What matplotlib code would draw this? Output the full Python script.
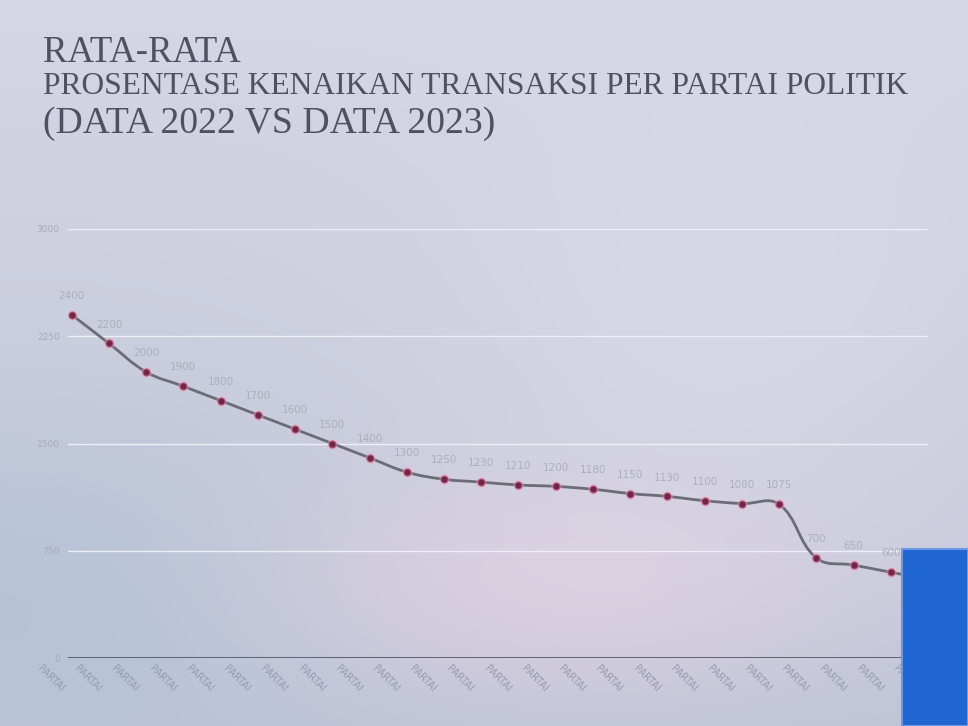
import numpy as np
import matplotlib
matplotlib.use("Agg")
import matplotlib.pyplot as plt
from matplotlib.path import Path
from matplotlib.patches import PathPatch, Rectangle
import matplotlib.transforms as mtransforms

# ---- data ----
categories = ["PARTAI"] * 24
values = [2400, 2200, 2000, 1900, 1800, 1700, 1600, 1500, 1400, 1300,
          1250, 1230, 1210, 1200, 1180, 1150, 1130, 1100, 1080, 1075,
          700, 650, 600, 550]
value_labels = ["2400", "2200", "2000", "1900", "1800", "1700", "1600", "1500",
                "1400", "1300", "1250", "1230", "1210", "1200", "1180", "1150",
                "1130", "1100", "1080", "1075", "700", "650", "600", "550"]
y_ticks = [0, 750, 1500, 2250, 3000]
title_lines = ["RATA-RATA",
               "PROSENTASE KENAIKAN TRANSAKSI PER PARTAI POLITIK",
               "(DATA 2022 VS DATA 2023)"]

W, H = 968, 726
fig = plt.figure(figsize=(W / 100, H / 100), dpi=100)

# ---- background gradient (photo of a slide) ----
bg = fig.add_axes([0, 0, 1, 1], zorder=-10)
yy, xx = np.mgrid[0:H, 0:W]
fy = yy / H
fx = xx / W
top = np.array([214, 214, 228])
bottom = np.array([190, 196, 215])
img = top[None, None, :] * (1 - fy[..., None]) + bottom[None, None, :] * fy[..., None]
# bluish lower-left
blob = np.exp(-(((fx - 0.03) / 0.35) ** 2 + ((fy - 0.82) / 0.22) ** 2))
img = img * (1 - 0.55 * blob[..., None]) + np.array([172, 192, 212])[None, None, :] * 0.55 * blob[..., None]
# pinkish centre-bottom
blob2 = np.exp(-(((fx - 0.58) / 0.3) ** 2 + ((fy - 0.8) / 0.16) ** 2))
img = img * (1 - 0.6 * blob2[..., None]) + np.array([232, 210, 226])[None, None, :] * 0.6 * blob2[..., None]
# lighter right/centre
blob3 = np.exp(-(((fx - 0.75) / 0.35) ** 2 + ((fy - 0.45) / 0.35) ** 2))
img = img * (1 - 0.45 * blob3[..., None]) + np.array([228, 225, 236])[None, None, :] * 0.45 * blob3[..., None]
bg.imshow(np.clip(img, 0, 255).astype(np.uint8), aspect="auto", extent=[0, 1, 0, 1])
bg.set_axis_off()

# ---- titles ----
tfont = dict(family="Liberation Serif", color="#4f5062")
fig.text(43 / W, 1 - 62 / H, title_lines[0], fontsize=26.5, **tfont)
fig.text(43 / W, 1 - 94 / H, title_lines[1], fontsize=22.7, **tfont)
fig.text(43 / W, 1 - 133 / H, title_lines[2], fontsize=27.2, **tfont)

# ---- axes ----
left_px, right_px = 68, 928
bottom_px, top_px = 658, 229
ax = fig.add_axes([left_px / W, 1 - bottom_px / H, (right_px - left_px) / W, (bottom_px - top_px) / H])
ax.patch.set_alpha(0)
x = np.arange(len(values))
ax.set_xlim(-0.1, 22.6)
ax.set_ylim(0, 3000)

for s in ax.spines.values():
    s.set_visible(False)
for t in y_ticks[1:]:
    ax.axhline(t, color="#eeeff5", lw=1.0, zorder=1)
ax.axhline(0, color="#3c4558", lw=1.8, zorder=2)

ax.set_yticks(y_ticks)
ax.set_yticklabels([str(t) for t in y_ticks], fontsize=6.5, color="#a8aab9")
ax.tick_params(axis="y", length=0, pad=6)
ax.set_xticks(x)
ax.set_xticklabels(categories, rotation=-45, ha="right", va="top",
                   fontsize=7, color="#969cb0")
ax.tick_params(axis="x", length=0, pad=4)
offset = mtransforms.ScaledTranslation(-6 / 100, 0, fig.dpi_scale_trans)
for lbl in ax.get_xticklabels():
    lbl.set_transform(lbl.get_transform() + offset)

# ---- smooth line (Chart.js-like spline) ----
sx = (right_px - left_px) / (22.6 + 0.1)
sy = (bottom_px - top_px) / 3000.0
P = np.column_stack([x * sx, np.array(values) * sy])
tension = 0.4
n = len(P)
verts = [tuple(P[0])]
codes = [Path.MOVETO]
cps_prev = np.zeros_like(P)
cps_next = np.zeros_like(P)
for i in range(n):
    p0 = P[max(i - 1, 0)]
    p1 = P[i]
    p2 = P[min(i + 1, n - 1)]
    d01 = np.hypot(*(p1 - p0))
    d12 = np.hypot(*(p2 - p1))
    tot = d01 + d12 if d01 + d12 > 0 else 1
    fa = tension * d01 / tot
    fb = tension * d12 / tot
    cps_prev[i] = p1 - fa * (p2 - p0)
    cps_next[i] = p1 + fb * (p2 - p0)
for i in range(1, n):
    verts += [tuple(cps_next[i - 1]), tuple(cps_prev[i]), tuple(P[i])]
    codes += [Path.CURVE4] * 3
verts = np.array(verts)
verts[:, 0] /= sx
verts[:, 1] /= sy
path = Path(verts, codes)
ax.add_patch(PathPatch(path, fill=False, edgecolor="#6b6c76", lw=2.0, zorder=3))

ax.scatter(x, values, s=60, color="#f2a6c4", alpha=0.4, zorder=4, linewidths=0)
ax.scatter(x, values, s=26, color="#6e2846", edgecolors="#b85a80", linewidths=0.8, zorder=5)

for xi, v, lab in zip(x, values, value_labels):
    ax.annotate(lab, (xi, v), xytext=(0, 10), textcoords="offset points",
                ha="center", va="bottom", fontsize=7.5, color="#adafbc", zorder=6,
                annotation_clip=True)

# ---- blue occluding box from the photo ----
fig.patches.append(Rectangle((902 / W, 0), 1 - 902 / W, (H - 549) / H,
                             transform=fig.transFigure, facecolor="#1f66d2",
                             edgecolor="#6a98e4", lw=1.5, zorder=20))

fig.savefig("out.png", dpi=100)
